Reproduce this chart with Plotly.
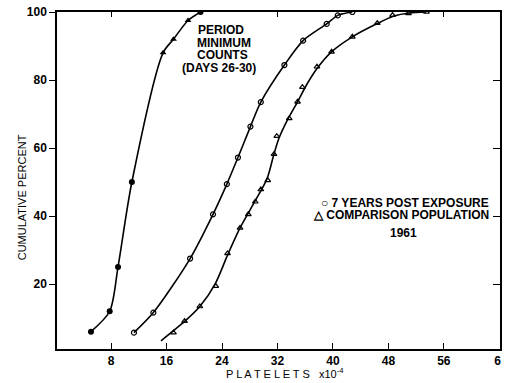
import plotly.graph_objects as go

# ---- data ----
period_x = [5.1, 7.8, 9.0, 11.0, 15.5, 17.0, 19.1, 20.9]
period_y = [6, 12, 25, 50, 88, 92, 97.5, 100]

post_x = [11.3, 14.1, 19.4, 22.7, 24.7, 26.3, 28.1, 29.6, 33.0, 35.7, 39.1, 40.7, 42.8]
post_y = [5.7, 11.6, 27.5, 40.5, 49.4, 57.2, 66.3, 73.5, 84.4, 91.6, 96.5, 99.0, 100]

comp_x = [17.0, 18.6, 20.8, 23.1, 24.8, 26.6, 27.8, 28.8, 29.6, 30.6, 31.5, 31.9, 33.7,
          34.9, 35.6, 37.7, 39.8, 42.8, 46.4, 48.6, 50.9, 53.5]
comp_y = [5.7, 9.1, 13.4, 19.4, 29.0, 36.5, 40.5, 44.2, 47.8, 50.5, 58.2, 63.5, 68.7,
          73.6, 77.9, 83.9, 88.3, 92.7, 96.7, 99.1, 99.6, 100]

# hand-drawn smooth curve through the comparison points (as traced in the figure)
comp_curve_x = [15.2, 18.6, 20.8, 23.0, 24.8, 26.6, 28.8, 30.5, 31.4, 32.2, 33.5, 34.9,
                36.2, 37.7, 39.8, 42.8, 46.4, 48.8, 51.0, 53.5]
comp_curve_y = [3.3, 9.0, 13.4, 20.0, 28.5, 36.5, 44.5, 51.0, 57.5, 62.8, 68.5, 73.6,
                78.6, 83.4, 88.3, 92.7, 96.6, 98.8, 99.7, 100]

x_ticks = [8, 16, 24, 32, 40, 48, 56, 64]
x_tick_text = ["8", "16", "24", "32", "40", "48", "56", "6\u2008"]
y_ticks = [20, 40, 60, 80, 100]

FONT = "Liberation Sans"
fig = go.Figure()

line_style = dict(color="black", width=1.6, shape="spline", smoothing=0.8)
for xs, ys in [(period_x, period_y), (post_x, post_y), (comp_curve_x, comp_curve_y)]:
    fig.add_trace(go.Scatter(x=xs, y=ys, mode="lines", line=line_style,
                             showlegend=False, hoverinfo="skip"))

# period minimum markers: circles low, triangles high
fig.add_trace(go.Scatter(x=period_x[:4] + period_x[-1:], y=period_y[:4] + period_y[-1:], mode="markers",
                         marker=dict(symbol="circle", size=6, color="black"), showlegend=False))
fig.add_trace(go.Scatter(x=period_x[4:7], y=period_y[4:7], mode="markers",
                         marker=dict(symbol="triangle-up", size=6, color="black"), showlegend=False))
# post exposure: open circles
fig.add_trace(go.Scatter(x=post_x, y=post_y, mode="markers",
                         marker=dict(symbol="circle-open", size=5, color="black", line=dict(width=1.2)),
                         showlegend=False))
# comparison: open triangles
fig.add_trace(go.Scatter(x=comp_x, y=comp_y, mode="markers",
                         marker=dict(symbol="triangle-up-open", size=5, color="black", line=dict(width=1.2)),
                         showlegend=False))

ann_font = dict(family=FONT, size=12, color="black", weight="bold")
for t, ax, ay in [("PERIOD", 23.8, 94.7), ("MINIMUM", 24.3, 90.9),
                  ("COUNTS", 24.1, 87.4), ("(DAYS 26-30)", 23.6, 83.5)]:
    fig.add_annotation(x=ax, y=ay, text=t, showarrow=False, font=ann_font,
                       xanchor="center", yanchor="middle")

fig.add_annotation(x=62.8, y=43.9, text="\u25cb 7 YEARS POST EXPOSURE", showarrow=False,
                   font=ann_font, xanchor="right", yanchor="middle")
fig.add_annotation(x=62.8, y=40.3, text="\u25b3 COMPARISON POPULATION", showarrow=False,
                   font=ann_font, xanchor="right", yanchor="middle")
fig.add_annotation(x=50.2, y=35.1, text="1961", showarrow=False,
                   font=ann_font, xanchor="center", yanchor="middle")

# axis titles
fig.add_annotation(xref="paper", yref="paper", x=(22 - 57) / 447, y=(349 - 197) / 337,
                   text="CUMULATIVE PERCENT", textangle=-90, showarrow=False,
                   font=dict(family=FONT, size=11, color="black"),
                   xanchor="center", yanchor="middle")
fig.add_annotation(xref="paper", yref="paper", x=(287 - 57) / 447, y=-(373 - 349) / 337,
                   text="P L A T E L E T S   x10<sup>-4</sup>", showarrow=False,
                   font=dict(family=FONT, size=11, color="black"),
                   xanchor="center", yanchor="middle")

axis_common = dict(showgrid=False, zeroline=False, linecolor="black", linewidth=1.5,
                   tickcolor="black", ticklen=6, tickwidth=1.3,
                   tickfont=dict(family=FONT, size=12, color="black", weight="bold"))

fig.update_layout(
    width=505, height=383,
    margin=dict(l=57, r=1, t=12, b=34),
    plot_bgcolor="white", paper_bgcolor="white",
    xaxis=dict(range=[0.2, 64.1], tickvals=x_ticks, ticktext=x_tick_text, ticks="inside",
               mirror=True, showline=True, ticklabeloverflow="allow", **axis_common),
    yaxis=dict(range=[0.9, 100], tickvals=y_ticks, ticks="outside", mirror=True, showline=True,
               **axis_common),
    yaxis2=dict(range=[0.9, 100], overlaying="y", side="right", tickvals=[20, 40, 60, 80],
                ticks="inside", ticklen=7, tickcolor="black", showticklabels=False,
                showgrid=False, zeroline=False, showline=False),
    xaxis2=dict(range=[0.2, 64.1], overlaying="x", side="top", tickvals=[8, 32, 56],
                ticks="inside", ticklen=5, tickcolor="black", showticklabels=False,
                showgrid=False, zeroline=False, showline=False),
)
fig.add_trace(go.Scatter(x=[30], y=[50], xaxis="x2", yaxis="y2", mode="markers",
                         marker=dict(opacity=0), showlegend=False, hoverinfo="skip"))

fig.write_html("out.html")
